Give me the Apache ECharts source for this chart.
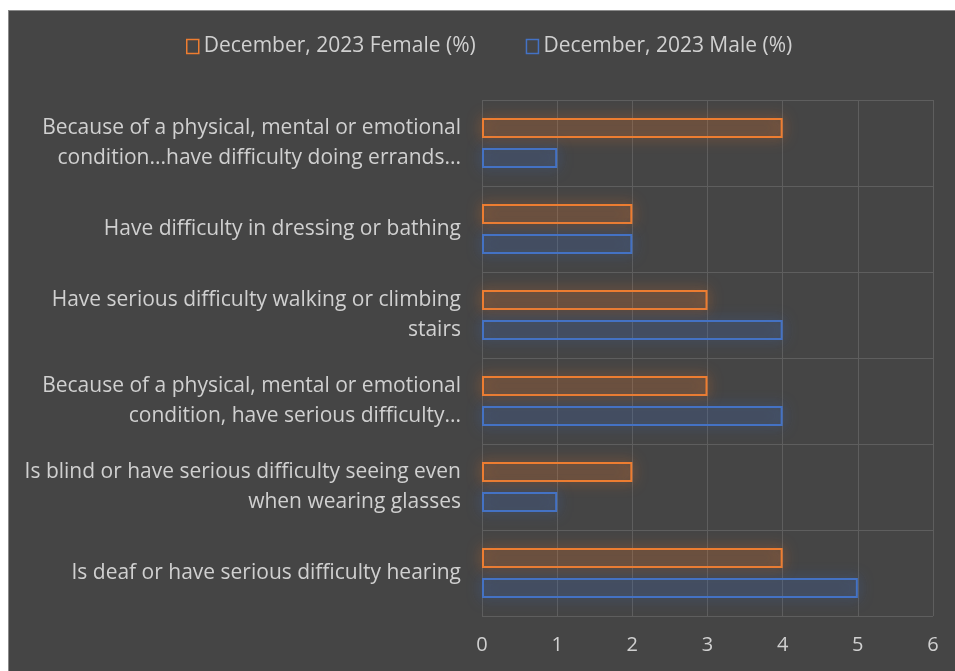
<!DOCTYPE html>
<html>
<head>
<meta charset="utf-8">
<script src="https://cdn.jsdelivr.net/npm/echarts@6/dist/echarts.min.js"></script>
<style>
html,body{margin:0;padding:0;background:#ffffff;}
#chart{position:absolute;left:8px;top:10px;width:947px;height:661px;background:#454545;border-top:1px solid #8a8a8a;border-left:1px solid #8a8a8a;box-sizing:border-box;}
</style>
</head>
<body>
<div id="chart"></div>
<script>
const categories = [
  "Because of a physical, mental or emotional\ncondition...have difficulty doing errands...",
  "Have difficulty in dressing or bathing",
  "Have serious difficulty walking or climbing\nstairs",
  "Because of a physical, mental or emotional\ncondition, have serious difficulty...",
  "Is blind or have serious difficulty seeing even\nwhen wearing glasses",
  "Is deaf or have serious difficulty hearing"
];
const femaleValues = [4, 2, 3, 3, 2, 4];
const maleValues = [1, 2, 4, 4, 1, 5];
const xTicks = [0, 1, 2, 3, 4, 5, 6];

const chart = echarts.init(document.getElementById('chart'));
const font = 'Open Sans, Noto Sans, sans-serif';
chart.setOption({
  backgroundColor: '#454545',
  animation: false,
  textStyle: { fontFamily: font },
  legend: {
    top: 20,
    left: 172,
    itemWidth: 12,
    itemHeight: 14,
    itemGap: 50,
    textStyle: { color: '#d0d0d0', fontSize: 21, fontFamily: font },
    data: [
      { name: 'December, 2023 Female (%)', icon: 'rect', itemStyle: { color: 'transparent', borderColor: '#ED7D31', borderWidth: 1.5 } },
      { name: 'December, 2023 Male (%)', icon: 'rect', itemStyle: { color: 'transparent', borderColor: '#4472C4', borderWidth: 1.5 } }
    ]
  },
  grid: { left: 473, right: 22, top: 89, bottom: 55, containLabel: false },
  xAxis: {
    type: 'value',
    min: 0, max: 6, interval: 1,
    axisLine: { show: false },
    axisTick: { show: false },
    axisLabel: { color: '#d0d0d0', fontSize: 20, margin: 19, fontFamily: font,
      formatter: v => String(xTicks[v]) },
    splitLine: { show: true, lineStyle: { color: '#5e5e5e', width: 1 } }
  },
  yAxis: {
    type: 'category',
    inverse: true,
    data: categories,
    axisLine: { show: false },
    axisTick: { show: false },
    axisLabel: { color: '#d0d0d0', fontSize: 21, margin: 21, lineHeight: 30, align: 'right', fontFamily: font },
    splitLine: { show: true, lineStyle: { color: '#5e5e5e', width: 1 } }
  },
  series: [
    {
      name: 'December, 2023 Female (%)',
      type: 'bar',
      data: femaleValues,
      barWidth: 20,
      barGap: '50%',
      itemStyle: {
        color: 'rgba(237,125,49,0.1)',
        borderColor: '#ED7D31',
        borderWidth: 2,
        shadowBlur: 14,
        shadowColor: 'rgba(237,125,49,0.8)'
      }
    },
    {
      name: 'December, 2023 Male (%)',
      type: 'bar',
      data: maleValues,
      barWidth: 20,
      itemStyle: {
        color: 'rgba(68,114,196,0.1)',
        borderColor: '#4472C4',
        borderWidth: 2,
        shadowBlur: 14,
        shadowColor: 'rgba(68,114,196,0.8)'
      }
    }
  ]
});
</script>
</body>
</html>
